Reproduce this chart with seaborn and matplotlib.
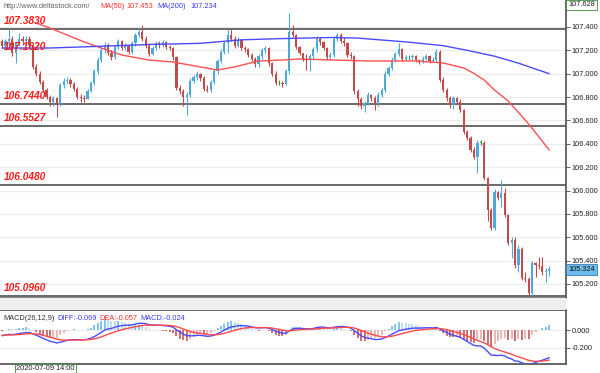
import numpy as np
import pandas as pd
import seaborn as sns
import matplotlib.pyplot as plt
from matplotlib.patches import Rectangle

# hourly candles (open = previous close)
first_open = 107.28
closes = [107.24, 107.28, 107.30, 107.18, 107.26, 107.30, 107.28, 107.30, 107.25, 107.06,
          107.00, 106.93, 106.86, 106.80, 106.76, 106.79, 106.73, 106.90, 106.94, 106.95,
          106.91, 106.87, 106.80, 106.79, 106.78, 106.85, 106.92, 107.02, 107.12, 107.20,
          107.25, 107.18, 107.14, 107.23, 107.28, 107.22, 107.24, 107.19, 107.26, 107.33,
          107.36, 107.30, 107.24, 107.17, 107.22, 107.26, 107.25, 107.27, 107.23, 107.22,
          107.14, 106.88, 106.85, 106.80, 106.82, 106.94, 106.97, 107.00, 106.96, 106.87,
          106.86, 106.93, 107.02, 107.11, 107.19, 107.26, 107.33, 107.30, 107.24, 107.29,
          107.22, 107.21, 107.16, 107.13, 107.08, 107.15, 107.20, 107.22, 107.09, 107.00,
          106.92, 106.92, 106.91, 107.02, 107.36, 107.33, 107.23, 107.18, 107.13, 107.12,
          107.15, 107.21, 107.30, 107.27, 107.22, 107.14, 107.16, 107.30, 107.33, 107.28,
          107.26, 107.16, 107.15, 106.85, 106.78, 106.72, 106.75, 106.82, 106.79, 106.74,
          106.82, 106.86, 107.00, 107.05, 107.12, 107.17, 107.21, 107.13, 107.14, 107.14,
          107.15, 107.12, 107.10, 107.13, 107.15, 107.11, 107.12, 107.19, 106.95, 106.86,
          106.79, 106.73, 106.79, 106.76, 106.69, 106.50, 106.45, 106.35, 106.29, 106.41,
          106.41, 106.11, 105.83, 105.68, 105.99, 105.94, 105.98, 105.79, 105.55, 105.58,
          105.36, 105.50, 105.25, 105.24, 105.12, 105.38, 105.36, 105.35, 105.30, 105.31,
          105.324]
highs = [107.30, 107.30, 107.38, 107.32, 107.28, 107.35, 107.32, 107.32, 107.32, 107.26,
         107.08, 107.02, 106.95, 106.88, 106.82, 106.81, 106.80, 106.92, 106.96, 106.97,
         106.96, 106.93, 106.89, 106.83, 106.82, 106.87, 106.94, 107.04, 107.14, 107.22,
         107.27, 107.26, 107.20, 107.25, 107.30, 107.29, 107.26, 107.24, 107.28, 107.35,
         107.39, 107.42, 107.32, 107.26, 107.24, 107.28, 107.28, 107.29, 107.28, 107.25,
         107.23, 107.15, 106.90, 106.87, 106.84, 106.96, 106.99, 107.02, 107.01, 106.98,
         106.90, 106.95, 107.04, 107.13, 107.21, 107.28, 107.38, 107.38, 107.32, 107.31,
         107.30, 107.24, 107.22, 107.18, 107.14, 107.17, 107.22, 107.24, 107.23, 107.10,
         107.02, 106.95, 106.94, 107.04, 107.52, 107.42, 107.34, 107.24, 107.18, 107.17,
         107.17, 107.23, 107.32, 107.31, 107.28, 107.23, 107.19, 107.32, 107.35, 107.35,
         107.31, 107.27, 107.19, 107.16, 106.87, 106.80, 106.77, 106.84, 106.83, 106.81,
         106.84, 106.88, 107.02, 107.07, 107.14, 107.19, 107.26, 107.22, 107.16, 107.16,
         107.17, 107.16, 107.13, 107.15, 107.17, 107.16, 107.14, 107.21, 107.20, 106.97,
         106.88, 106.81, 106.81, 106.80, 106.78, 106.70, 106.52, 106.47, 106.37, 106.43,
         106.43, 106.42, 106.12, 105.85, 106.01, 106.00, 106.09, 106.02, 105.80, 105.60,
         105.60, 105.53, 105.52, 105.30, 105.26, 105.40, 105.39, 105.43, 105.43, 105.34,
         105.35]
lows = [107.22, 107.22, 107.21, 107.15, 107.09, 107.24, 107.25, 107.26, 107.23, 107.04,
        106.98, 106.91, 106.84, 106.78, 106.72, 106.72, 106.63, 106.72, 106.88, 106.91,
        106.89, 106.85, 106.78, 106.76, 106.76, 106.78, 106.84, 106.90, 107.00, 107.10,
        107.18, 107.16, 107.12, 107.13, 107.21, 107.20, 107.20, 107.17, 107.17, 107.24,
        107.31, 107.28, 107.22, 107.15, 107.16, 107.20, 107.22, 107.23, 107.21, 107.20,
        107.12, 106.86, 106.83, 106.72, 106.65, 106.80, 106.92, 106.95, 106.94, 106.85,
        106.84, 106.84, 106.91, 107.00, 107.09, 107.17, 107.18, 107.28, 107.22, 107.23,
        107.20, 107.19, 107.14, 107.11, 107.06, 107.06, 107.13, 107.18, 107.07, 106.98,
        106.90, 106.90, 106.89, 106.90, 107.00, 107.31, 107.21, 107.16, 107.11, 107.03,
        107.02, 107.13, 107.19, 107.25, 107.20, 107.12, 107.12, 107.14, 107.28, 107.26,
        107.24, 107.14, 107.13, 106.83, 106.72, 106.70, 106.67, 106.73, 106.77, 106.69,
        106.72, 106.80, 106.84, 106.98, 107.03, 107.10, 107.15, 107.11, 107.11, 107.12,
        107.12, 107.10, 107.08, 107.09, 107.12, 107.09, 107.10, 107.10, 106.93, 106.84,
        106.77, 106.71, 106.70, 106.74, 106.67, 106.48, 106.43, 106.33, 106.27, 106.15,
        106.39, 106.09, 105.74, 105.66, 105.66, 105.92, 105.86, 105.77, 105.53, 105.42,
        105.34, 105.30, 105.23, 105.22, 105.10, 105.10, 105.26, 105.33, 105.28, 105.22,
        105.27]

# moving averages read at a few bars
ma50_bar = [10, 14, 19, 24, 29, 35, 43, 50, 58, 63, 68, 75, 82, 87, 107, 121, 129, 135, 138,
            141, 144, 148, 151, 154, 157, 160]
ma50_val = [107.434, 107.391, 107.332, 107.272, 107.220, 107.160, 107.117, 107.100, 107.058,
            107.032, 107.058, 107.109, 107.117, 107.126, 107.109, 107.109, 107.092, 107.049,
            107.002, 106.946, 106.860, 106.766, 106.668, 106.569, 106.458, 106.347]
ma200_bar = [0, 14, 29, 43, 58, 70, 81, 96, 104, 119, 129, 136, 144, 151, 160]
ma200_val = [107.22, 107.22, 107.235, 107.25, 107.26, 107.29, 107.30, 107.31, 107.305, 107.27,
             107.24, 107.20, 107.15, 107.09, 107.00]

line_levels = [107.3830, 106.7440, 106.5527, 106.0480, 105.0960]
label_levels = [107.3830, 107.1620, 106.7440, 106.5527, 106.0480, 105.0960]
price_ticks = [107.4, 107.2, 107.0, 106.8, 106.6, 106.4, 106.2, 106.0, 105.8, 105.6, 105.4, 105.2]
macd_ticks = [0.0, -0.2]

# MACD(26,12,9), seeded so the first bar matches the legend (DIFF -0.069, DEA -0.057)
diff0, dea0 = -0.069, -0.057

n = len(closes)
opens = [first_open] + closes[:-1]
e26 = closes[0] + 0.08
e12 = e26 + diff0
dea = dea0
diff_l, dea_l = [], []
for c in closes:
    e12 = e12 + 2 / 13 * (c - e12)
    e26 = e26 + 2 / 27 * (c - e26)
    d = e12 - e26
    dea = dea + 2 / 10 * (d - dea)
    diff_l.append(d)
    dea_l.append(dea)
macd = pd.DataFrame({"bar": np.arange(n), "diff": diff_l, "dea": dea_l})
macd["hist"] = 2 * (macd["diff"] - macd["dea"])

sns.set_theme(style="white")
plt.rcParams['font.family'] = ['Liberation Sans', 'DejaVu Sans']

W, H = 600, 373
fig = plt.figure(figsize=(6.0, 3.73), dpi=100)
fig.patch.set_facecolor("white")
ax = fig.add_axes([0, 1 - 298 / H, 566 / W, 298 / H])
ax2 = fig.add_axes([0, 1 - 364 / H, 566 / W, 54 / H])
fig.patches.append(Rectangle((0, 1 - 310 / H), 566 / W, 12 / H, transform=fig.transFigure,
                             fc="#eeeeee", ec="none", zorder=0))

up, down = "#4fa8dc", "#c24b4b"
xlim = (-0.6, 164.9)

# grid + levels
for t in price_ticks:
    ax.axhline(t, color="#ececec", lw=0.8, zorder=0)
for lv in line_levels:
    ax.axhline(lv, color="#505050", lw=1.2, zorder=1)

# candles
for i in range(n):
    o, c = opens[i], closes[i]
    col = up if c > o else (down if c < o else "#2e9a2e")
    ax.vlines(i, lows[i], highs[i], color=col, lw=0.8, zorder=2)
    ax.bar(i, max(abs(c - o), 0.004), bottom=min(o, c), width=0.64, color=col, lw=0, zorder=3)

ma = pd.DataFrame({"bar": ma50_bar, "val": ma50_val})
sns.lineplot(data=ma, x="bar", y="val", ax=ax, color="#ff5050", lw=1.0, zorder=4)
ma2 = pd.DataFrame({"bar": ma200_bar, "val": ma200_val})
sns.lineplot(data=ma2, x="bar", y="val", ax=ax, color="#4a4aff", lw=1.0, zorder=4)

for lv in label_levels:
    ax.annotate(f"{lv:.4f}", xy=(0, lv), xycoords=ax.get_yaxis_transform(), xytext=(3, 2),
                textcoords="offset points", color="#ff1a1a", fontsize=7.3,
                fontweight="bold", fontstyle="italic", va="bottom", ha="left", zorder=6)

ax.set_xlim(*xlim)
ax.set_ylim(105.080, 107.631)
ax.set_xticks([])
ax.yaxis.tick_right()
ax.set_yticks(price_ticks)
ax.set_yticklabels([f"{t:.3f}" for t in price_ticks])
ax.tick_params(axis="y", right=True, length=3, width=0.6, pad=1, labelsize=5.3,
               colors="#444444", labelcolor="#222222")
ax.set_xlabel("")
ax.set_ylabel("")
for s in ["top", "left"]:
    ax.spines[s].set_visible(False)
ax.spines["right"].set_color("#555555")
ax.spines["bottom"].set_color("#777777")

ax.annotate("105.324", xy=(1, closes[-1]), xycoords=ax.get_yaxis_transform(), xytext=(1.5, 0),
            textcoords="offset points", fontsize=5.3, va="center", ha="left", color="#111111",
            bbox=dict(boxstyle="square,pad=0.25", fc="#6cbcec", ec="#3a7ab0", lw=0.6),
            annotation_clip=False)

# MACD panel
for t in macd_ticks:
    ax2.axhline(t, color="#ececec", lw=0.8, zorder=0)
hist = macd["hist"].to_numpy()
cols = []
for i, h in enumerate(hist):
    prev = hist[i - 1] if i > 0 else h
    if h >= 0:
        cols.append("#5ab4e6" if h >= prev else "#a9d5f0")
    else:
        cols.append("#c04848" if h <= prev else "#e3a3a3")
ax2.vlines(macd["bar"], 0, hist, colors=cols, lw=1.1, zorder=2)
sns.lineplot(data=macd, x="bar", y="diff", ax=ax2, color="#4a4aff", lw=1.0, zorder=3)
sns.lineplot(data=macd, x="bar", y="dea", ax=ax2, color="#ff4a4a", lw=1.0, zorder=3)
ax2.set_xlim(*xlim)
ax2.set_ylim(-0.384, 0.226)
ax2.set_xticks([])
ax2.yaxis.tick_right()
ax2.set_yticks(macd_ticks)
ax2.set_yticklabels([f"{t:.3f}" for t in macd_ticks])
ax2.tick_params(axis="y", right=True, length=3, width=0.6, pad=1, labelsize=5.3,
                colors="#444444", labelcolor="#222222")
ax2.set_xlabel("")
ax2.set_ylabel("")
ax2.spines["left"].set_visible(False)
for s in ["top", "bottom", "right"]:
    ax2.spines[s].set_color("#555555")

# header texts
fs = 5.3
fig.text(3 / W, 1 - 6 / H, "http://www.deltastock.com/", fontsize=fs, color="#666666", va="center")
fig.text(100 / W, 1 - 6 / H, "MA(50)", fontsize=fs, color="#ff3030", va="center")
fig.text(126 / W, 1 - 6 / H, "107.453", fontsize=fs, color="#ff3030", va="center")
fig.text(157 / W, 1 - 6 / H, "MA(200)", fontsize=fs, color="#3a3aff", va="center")
fig.text(190 / W, 1 - 6 / H, "107.234", fontsize=fs, color="#3a3aff", va="center")
fig.text(568 / W, 1 - 5 / H, "107.628", fontsize=fs, color="#222222", va="center",
         bbox=dict(boxstyle="square,pad=0.25", fc="white", ec="#3a8a3a", lw=0.6))
fig.text(3 / W, 1 - 318 / H, "MACD(26,12,9)", fontsize=fs, color="#333333", va="center")
fig.text(57 / W, 1 - 318 / H, "DIFF:-0.069", fontsize=fs, color="#3a3aff", va="center")
fig.text(99 / W, 1 - 318 / H, "DEA:-0.057", fontsize=fs, color="#ff3030", va="center")
fig.text(140 / W, 1 - 318 / H, "MACD:-0.024", fontsize=fs, color="#3a3aff", va="center")
fig.text(16 / W, 1 - 368.5 / H, "2020-07-09 14:00", fontsize=fs, color="#222222", va="center",
         bbox=dict(boxstyle="square,pad=0.2", fc="white", ec="#3a8a3a", lw=0.6))

fig.savefig("out.png", dpi=100)
